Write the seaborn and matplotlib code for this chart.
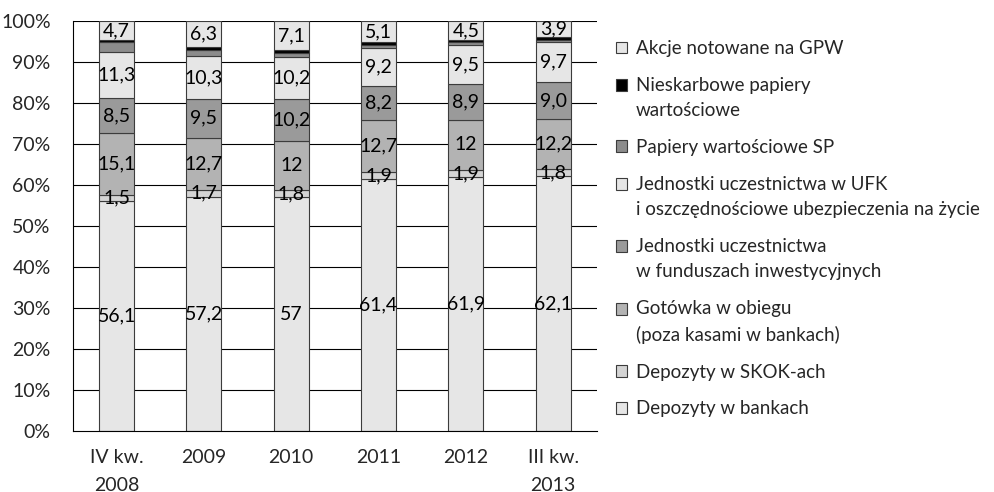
import numpy as np
import matplotlib
matplotlib.use("Agg")
import matplotlib.pyplot as plt
from matplotlib.patches import Patch, Rectangle
from matplotlib.legend_handler import HandlerPatch
import seaborn as sns

# dane (udzial w %), etykiety jak na wykresie
okresy = ["IV kw.\n2008", "2009", "2010", "2011", "2012", "III kw.\n2013"]
depozyty_banki = ["56,1", "57,2", "57", "61,4", "61,9", "62,1"]
depozyty_skok = ["1,5", "1,7", "1,8", "1,9", "1,9", "1,8"]
gotowka = ["15,1", "12,7", "12", "12,7", "12", "12,2"]
jednostki_fi = ["8,5", "9,5", "10,2", "8,2", "8,9", "9,0"]
jednostki_ufk = ["11,3", "10,3", "10,2", "9,2", "9,5", "9,7"]
papiery_sp = [2.3, 1.6, 1.1, 0.9, 0.7, 0.6]
nieskarbowe = [0.5, 0.7, 0.6, 0.6, 0.6, 0.7]
akcje = ["4,7", "6,3", "7,1", "5,1", "4,5", "3,9"]

seria = [
    ("Depozyty w bankach", depozyty_banki, "#e6e6e6"),
    ("Depozyty w SKOK-ach", depozyty_skok, "#d4d4d4"),
    ("Gotówka w obiegu\n(poza kasami w bankach)", gotowka, "#b3b3b3"),
    ("Jednostki uczestnictwa\nw funduszach inwestycyjnych", jednostki_fi, "#9a9a9a"),
    ("Jednostki uczestnictwa w UFK\ni oszczędnościowe ubezpieczenia na życie", jednostki_ufk, "#e6e6e6"),
    ("Papiery wartościowe SP", papiery_sp, "#8c8c8c"),
    ("Nieskarbowe papiery\nwartościowe", nieskarbowe, "#000000"),
    ("Akcje notowane na GPW", akcje, "#e6e6e6"),
]


# kwadracik legendy przy pierwszej linii opisu
class PierwszaLinia(HandlerPatch):
    def __init__(self, dy):
        super().__init__()
        self.dy = dy

    def create_artists(self, legend, orig_handle, xdescent, ydescent, width, height, fontsize, trans):
        p = Rectangle((-xdescent, -ydescent + self.dy), width, height)
        self.update_prop(p, orig_handle, legend)
        p.set_transform(trans)
        return [p]


sns.set_style("white")
plt.rcParams["font.family"] = ["Lato", "DejaVu Sans"]
plt.rcParams["font.size"] = 14

fig = plt.figure(figsize=(9.94, 4.92), dpi=100)
ax = fig.add_axes([0.0734, 0.124, 0.527, 0.833])

for y in range(10, 101, 10):
    ax.axhline(y, color="black", lw=0.8, zorder=0)

bottom = np.zeros(len(okresy))
handles = []
for nazwa, wart, kolor in seria:
    liczby = np.array([float(str(v).replace(",", ".")) for v in wart])
    sns.barplot(x=okresy, y=liczby, bottom=bottom, color=kolor, width=0.4,
                edgecolor="#3c3c3c", linewidth=0.8, saturation=1, ax=ax, zorder=2)
    if isinstance(wart[0], str):
        ax.bar_label(ax.containers[-1], labels=wart, label_type="center",
                     fontsize=14, color="black")
    bottom = bottom + liczby
    handles.append(Patch(facecolor=kolor, edgecolor="#3c3c3c", linewidth=0.8, label=nazwa))

ax.set_xlim(-0.5, 5.5)
ax.set_ylim(0, 100)
ax.set_yticks(range(0, 101, 10))
ax.set_yticklabels([f"{v}%" for v in range(0, 101, 10)])
ax.set_xticks(range(len(okresy)))
ax.set_xticklabels(okresy, linespacing=1.75, va="top")
ax.set_xticks(np.arange(-0.5, 5.6, 1), minor=True)
ax.tick_params(axis="x", which="major", length=0, pad=13)
ax.tick_params(axis="x", which="minor", length=5, width=0.8, color="black", direction="out")
ax.tick_params(axis="y", length=6, width=0.8, color="black", direction="out", pad=10)
ax.set_xlabel("")
ax.set_ylabel("")
for s in ["top", "right"]:
    ax.spines[s].set_visible(False)
for s in ["left", "bottom"]:
    ax.spines[s].set_color("black")
    ax.spines[s].set_linewidth(0.8)

handles = handles[::-1]
mapa = {h: PierwszaLinia(9.5 if "\n" in h.get_label() else 0) for h in handles}
leg = ax.legend(handles=handles, handler_map=mapa, loc="upper left", bbox_to_anchor=(1.022, 0.972),
                frameon=False, handlelength=0.6, handleheight=0.6, handletextpad=0.45,
                labelspacing=1.05, fontsize=13.5, borderaxespad=0)
for t in leg.get_texts():
    t.set_linespacing(1.6)

fig.savefig("out.png", dpi=100)
